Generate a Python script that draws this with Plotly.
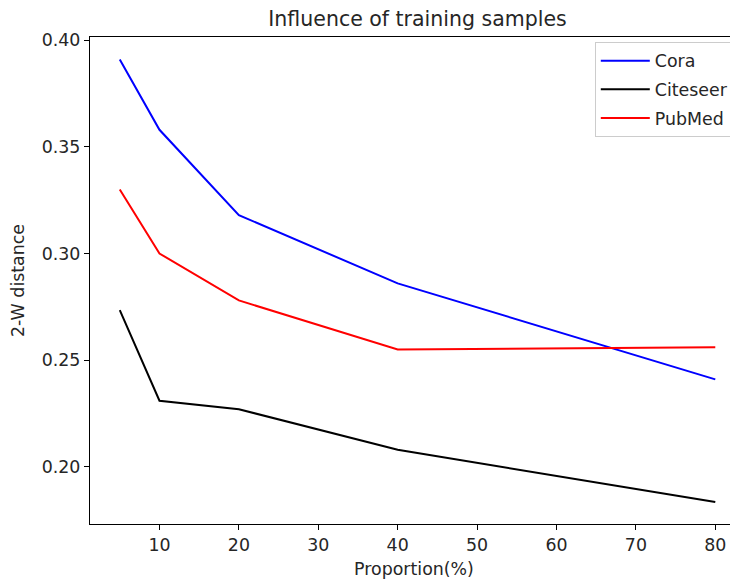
import plotly.graph_objects as go

proportion = [5, 10, 20, 40, 80]
cora = [0.391, 0.358, 0.318, 0.286, 0.241]
citeseer = [0.2735, 0.231, 0.227, 0.208, 0.1835]
pubmed = [0.330, 0.300, 0.278, 0.255, 0.256]

series = [("Cora", cora, "#0000ff"), ("Citeseer", citeseer, "#000000"), ("PubMed", pubmed, "#ff0000")]

fig = go.Figure()
for name, vals, col in series:
    fig.add_trace(go.Scatter(x=proportion, y=vals, mode="lines", name=name,
                             legendgroup=name,
                             line=dict(color=col, width=2)))

font = "DejaVu Sans"
fs = 17.4
fig.update_layout(
    width=738, height=584,
    paper_bgcolor="white", plot_bgcolor="white",
    margin=dict(l=82, r=8, t=29, b=68, autoexpand=False),
    font=dict(family=font, size=fs, color="#262626"),
    title=dict(text="Influence of training samples", x=0.5549, xanchor="center",
               y=0.982, yanchor="middle", font=dict(size=20.5, color="#262626")),
    showlegend=True,
    legend=dict(x=0.779, y=0.99, xanchor="left", yanchor="top",
                bordercolor="#cccccc", borderwidth=1, bgcolor="white",
                itemwidth=49,
                font=dict(size=fs, color="#262626"), tracegroupgap=3),
    xaxis=dict(range=[1.25, 82.86], tickvals=[10, 20, 30, 40, 50, 60, 70, 80],
               automargin=False,
               showgrid=False, zeroline=False, showline=True, linecolor="black",
               linewidth=1.2, mirror=True, ticks="outside", ticklen=5, tickcolor="black",
               tickfont=dict(size=fs),
               title=dict(text="Proportion(%)", font=dict(size=fs), standoff=8)),
    yaxis=dict(range=[0.1732, 0.4015], tickvals=[0.20, 0.25, 0.30, 0.35, 0.40],
               tickformat=".2f", automargin=False,
               showgrid=False, zeroline=False, showline=True, linecolor="black",
               linewidth=1.2, ticks="outside", ticklen=5, tickcolor="black",
               tickfont=dict(size=fs),
               title=dict(text="2-W distance", font=dict(size=fs), standoff=14)),
)
fig.write_html("out.html")
